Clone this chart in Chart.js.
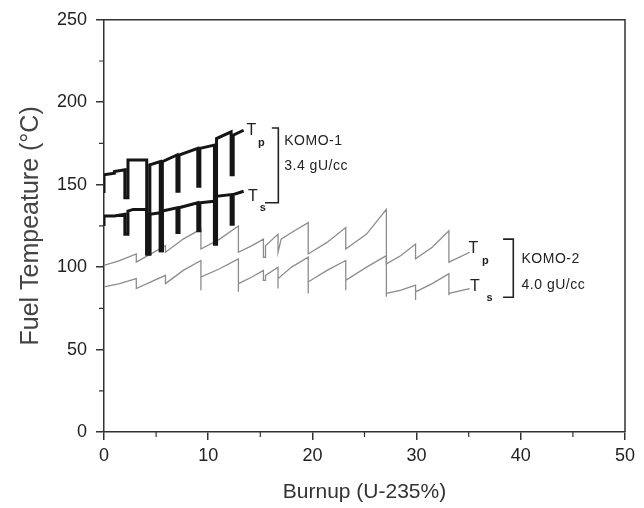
<!DOCTYPE html>
<html>
<head>
<meta charset="utf-8">
<script src="https://cdn.jsdelivr.net/npm/chart.js@4"></script>
<style>
  body { margin: 0; background: #fff; }
  canvas { display: block; }
</style>
</head>
<body>
<canvas id="grafico" width="644" height="508"></canvas>
<script>
// KOMO-1 (3.4 gU/cc) - trazos negros
const komo1TpX = [0, 0, 1.0, 1.0, 2.0, 2.0, 2.3, 2.3, 4.1, 4.1, 4.4, 4.4, 5.4, 5.4, 5.6, 5.6, 7.0, 7.0, 7.2, 7.2, 9.0, 9.0, 9.2, 9.2, 10.6, 10.6, 10.8, 10.8, 12.2, 12.2, 12.4, 12.4, 13.4];
const komo1TpY = [145, 156, 157, 158, 159, 142, 142, 165, 165, 108, 108, 162, 164, 110, 110, 164, 168, 146, 146, 168, 172, 149, 149, 172, 174, 114, 114, 178, 182, 156, 156, 180, 183];
const komo1TsX = [0, 0, 1.0, 1.0, 2.0, 2.0, 2.3, 2.3, 2.8, 4.1, 4.1, 4.4, 4.4, 5.4, 5.4, 5.6, 5.6, 7.0, 7.0, 7.2, 7.2, 9.0, 9.0, 9.2, 9.2, 10.6, 10.6, 10.8, 10.8, 12.2, 12.2, 12.4, 12.4, 13.4];
const komo1TsY = [125, 131, 131, 131, 132, 120, 120, 134, 135, 135, 108, 108, 132, 133, 110, 110, 134, 136, 121, 121, 136, 139, 122, 122, 139, 140, 114, 114, 143, 144, 126, 126, 144, 146];

// KOMO-2 (4.0 gU/cc) - trazos grises
const komo2TpX = [0, 1.5, 3.1, 3.1, 4.5, 5.9, 5.9, 7.6, 9.3, 9.3, 11.1, 12.9, 12.9, 14.2, 15.3, 15.3, 15.5, 15.5, 16.7, 16.7, 17.0, 18.0, 19.6, 19.6, 21.4, 23.2, 23.2, 25.2, 27.1, 27.1, 28.5, 29.9, 29.9, 31.5, 33.1, 33.1, 35.1];
const komo2TpY = [101, 104, 108, 103, 108, 113, 109, 117, 123, 111, 117, 125, 109, 113, 117, 106, 106, 113, 120, 109, 117, 121, 127, 108, 115, 124, 111, 120, 135, 102, 107, 114, 105, 112, 122, 103, 109];
const komo2TsX = [0, 1.5, 3.1, 3.1, 4.5, 5.9, 5.9, 7.6, 9.3, 9.3, 9.3, 11.1, 12.9, 12.9, 12.9, 14.2, 15.3, 15.3, 15.5, 15.5, 16.7, 16.7, 16.7, 18.0, 19.6, 19.6, 19.6, 21.4, 23.2, 23.2, 23.2, 25.2, 27.1, 27.1, 27.1, 28.5, 29.9, 29.9, 29.9, 31.5, 33.1, 33.1, 33.1, 35.1];
const komo2TsY = [88, 90, 93, 87, 91, 95, 90, 98, 104, 86, 94, 99, 105, 85, 90, 94, 98, 92, 92, 95, 100, 87, 93, 100, 106, 84, 91, 98, 104, 86, 92, 100, 107, 82, 84, 86, 89, 80, 85, 90, 96, 83, 84, 87];

// ticks menores
const xMinor = [5, 15, 25, 35, 45];
const yMinor = [25, 75, 125, 175, 225];

// anotaciones (en unidades de datos)
const etiquetasT = [
  { x: 14.15, y: 183, sub: 'p', sx: 15.1, sy: 175.5 },
  { x: 14.3, y: 142.5, sub: 's', sx: 15.25, sy: 136 },
  { x: 35.45, y: 111.5, sub: 'p', sx: 36.6, sy: 104 },
  { x: 35.6, y: 88.2, sub: 's', sx: 37.0, sy: 81 }
];
const corchetes = [
  { x: 16.73, top: 184.4, bottom: 139, xTop: 16.1, xBottom: 15.45 },
  { x: 39.28, top: 117, bottom: 81.7, xTop: 38.3, xBottom: 38.3 }
];
const textosKomo = [
  { x: 17.3, y: 176.3, text: 'KOMO-1' },
  { x: 17.3, y: 161.2, text: '3.4 gU/cc' },
  { x: 40.07, y: 105, text: 'KOMO-2' },
  { x: 40.07, y: 88.8, text: '4.0 gU/cc' }
];

const FUENTE = "'Liberation Sans', Arial, sans-serif";

function puntos(xs, ys) {
  return xs.map((x, i) => ({ x: x, y: ys[i] }));
}

function serie(label, xs, ys, color, ancho, orden) {
  return {
    label: label,
    data: puntos(xs, ys),
    showLine: true,
    borderColor: color,
    borderWidth: ancho,
    pointRadius: 0,
    tension: 0,
    borderJoinStyle: 'miter',
    order: orden
  };
}

// marco, ticks menores y anotaciones
const extras = {
  id: 'extras',
  afterDraw(chart) {
    const ctx = chart.ctx;
    const a = chart.chartArea;
    const sx = chart.scales.x, sy = chart.scales.y;
    ctx.save();
    ctx.strokeStyle = '#333';
    ctx.lineWidth = 1.5;
    ctx.beginPath();
    ctx.moveTo(a.left, a.top);
    ctx.lineTo(a.right, a.top);
    ctx.lineTo(a.right, a.bottom);
    ctx.stroke();

    ctx.lineWidth = 1.2;
    ctx.beginPath();
    xMinor.forEach(v => {
      const px = sx.getPixelForValue(v);
      ctx.moveTo(px, a.bottom);
      ctx.lineTo(px, a.bottom + 5);
    });
    yMinor.forEach(v => {
      const py = sy.getPixelForValue(v);
      ctx.moveTo(a.left, py);
      ctx.lineTo(a.left - 5, py);
    });
    ctx.stroke();

    // corchetes
    ctx.strokeStyle = '#222';
    ctx.lineWidth = 1.6;
    corchetes.forEach(c => {
      const x = sx.getPixelForValue(c.x);
      const yt = sy.getPixelForValue(c.top), yb = sy.getPixelForValue(c.bottom);
      ctx.beginPath();
      ctx.moveTo(sx.getPixelForValue(c.xTop), yt);
      ctx.lineTo(x, yt);
      ctx.lineTo(x, yb);
      ctx.lineTo(sx.getPixelForValue(c.xBottom), yb);
      ctx.stroke();
    });

    // textos
    ctx.fillStyle = '#222';
    ctx.textBaseline = 'middle';
    ctx.textAlign = 'left';
    ctx.letterSpacing = '0.5px';
    ctx.font = '14px ' + FUENTE;
    textosKomo.forEach(t => {
      ctx.fillText(t.text, sx.getPixelForValue(t.x), sy.getPixelForValue(t.y));
    });
    ctx.letterSpacing = '0px';
    etiquetasT.forEach(t => {
      ctx.font = '16px ' + FUENTE;
      ctx.textAlign = 'center';
      ctx.fillText('T', sx.getPixelForValue(t.x), sy.getPixelForValue(t.y));
      ctx.font = 'bold 11px ' + FUENTE;
      ctx.fillText(t.sub, sx.getPixelForValue(t.sx), sy.getPixelForValue(t.sy));
    });
    ctx.restore();
  }
};

new Chart(document.getElementById('grafico'), {
  type: 'scatter',
  data: {
    datasets: [
      serie('KOMO-1 Tp', komo1TpX, komo1TpY, '#151515', 3, 0),
      serie('KOMO-1 Ts', komo1TsX, komo1TsY, '#151515', 3, 0),
      serie('KOMO-2 Tp', komo2TpX, komo2TpY, '#8c8c8c', 1.3, 1),
      serie('KOMO-2 Ts', komo2TsX, komo2TsY, '#8c8c8c', 1.3, 1)
    ]
  },
  options: {
    responsive: false,
    animation: false,
    layout: { padding: { top: 18, right: 19, left: 0, bottom: 0 } },
    plugins: { legend: { display: false }, tooltip: { enabled: false } },
    scales: {
      x: {
        type: 'linear',
        min: 0, max: 50,
        afterFit: s => { s.height = 76; },
        ticks: { stepSize: 10, color: '#222', padding: 5, font: { family: FUENTE, size: 18 } },
        grid: { drawOnChartArea: false, drawTicks: true, tickLength: 8, color: '#333', lineWidth: 1.5 },
        border: { color: '#333', width: 1.5 },
        title: { display: true, text: 'Burnup (U-235%)', color: '#333', padding: { top: 4, bottom: 3 }, font: { family: FUENTE, size: 21 } }
      },
      y: {
        min: 0, max: 250,
        afterFit: s => { s.width = 104; },
        ticks: { stepSize: 50, color: '#222', padding: 9, font: { family: FUENTE, size: 18 } },
        grid: { drawOnChartArea: false, drawTicks: true, tickLength: 8, color: '#333', lineWidth: 1.5 },
        border: { color: '#333', width: 1.5 },
        title: { display: true, text: 'Fuel Tempeature (°C)', color: '#444', padding: { top: 16, bottom: 0 }, font: { family: FUENTE, size: 25 } }
      }
    }
  },
  plugins: [extras]
});
</script>
</body>
</html>
